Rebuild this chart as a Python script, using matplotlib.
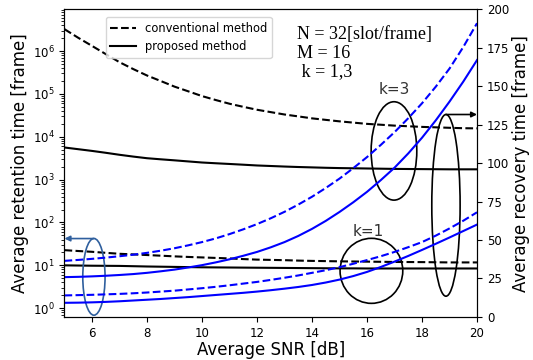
import numpy as np
import matplotlib
matplotlib.use('Agg')
import matplotlib.pyplot as plt
from matplotlib.patches import Ellipse

# SNR [dB]
snr = [5.0, 5.5, 6.0, 6.5, 7.0, 7.5, 8.0, 8.5, 9.0, 9.5, 10.0, 10.5, 11.0, 11.5, 12.0, 12.5,
       13.0, 13.5, 14.0, 14.5, 15.0, 15.5, 16.0, 16.5, 17.0, 17.5, 18.0, 18.5, 19.0, 19.5, 20.0]

# retention time [frame] (left, log axis)
ret_conv_k3 = [3.24e6, 2.04e6, 1.32e6, 8.5e5, 5.5e5, 3.8e5, 2.69e5, 2.0e5, 1.48e5, 1.15e5,
               8.9e4, 7.2e4, 5.9e4, 5.0e4, 4.27e4, 3.76e4, 3.31e4, 2.99e4, 2.69e4, 2.48e4,
               2.29e4, 2.14e4, 2.0e4, 1.91e4, 1.82e4, 1.76e4, 1.70e4, 1.66e4, 1.62e4, 1.585e4,
               1.57e4]
ret_prop_k3 = [5620, 5130, 4680, 4230, 3800, 3450, 3160, 2980, 2820, 2660, 2510, 2410,
               2320, 2230, 2140, 2080, 2020, 1970, 1930, 1890, 1860, 1840, 1820, 1800,
               1780, 1770, 1760, 1750, 1740, 1740, 1740]
ret_conv_k1 = [22.6, 21.6, 20.7, 19.6, 18.6, 18.0, 17.4, 16.8, 16.2, 15.7, 15.3, 14.9,
               14.5, 14.0, 13.6, 13.4, 13.2, 12.9, 12.7, 12.55, 12.4, 12.3, 12.2, 12.1,
               12.0, 11.95, 11.9, 11.8, 11.7, 11.7, 11.7]
ret_prop_k1 = [10.0, 9.9, 9.8, 9.75, 9.7, 9.55, 9.4, 9.3, 9.2, 9.1, 9.0, 8.95, 8.9,
               8.85, 8.8, 8.75, 8.7, 8.65, 8.6, 8.55, 8.5, 8.5, 8.45, 8.45, 8.45, 8.45,
               8.45, 8.45, 8.45, 8.45, 8.45]

# recovery time [frame] (right, linear axis)
rec_conv_k3 = [36.4, 37.0, 37.7, 38.5, 39.4, 40.4, 41.6, 43.0, 44.6, 46.5, 48.6, 51.0,
               53.8, 56.9, 60.3, 64.1, 68.3, 73.0, 78.1, 83.8, 89.9, 96.7, 103.9, 111.8,
               120.1, 129.2, 138.9, 149.7, 161.5, 175.5, 191.0]
rec_prop_k3 = [25.8, 26.0, 26.3, 26.7, 27.2, 27.8, 28.6, 29.6, 30.7, 32.1, 33.6, 35.4,
               37.4, 39.7, 42.2, 45.2, 48.6, 52.6, 57.2, 62.4, 68.2, 74.5, 81.3, 88.9,
               97.0, 106.3, 116.5, 127.8, 140.0, 153.0, 167.0]
rec_conv_k1 = [13.9, 14.1, 14.3, 14.6, 14.9, 15.3, 15.8, 16.4, 17.0, 17.8, 18.6, 19.5,
               20.5, 21.6, 22.7, 24.0, 25.4, 26.9, 28.6, 30.3, 32.3, 34.5, 36.9, 39.4,
               42.2, 45.3, 48.6, 52.8, 57.5, 62.5, 68.0]
rec_prop_k1 = [9.1, 9.2, 9.4, 9.7, 10.1, 10.6, 11.1, 11.6, 12.2, 12.8, 13.5, 14.2,
               14.9, 15.6, 16.4, 17.3, 18.3, 19.4, 20.7, 22.3, 24.2, 26.5, 29.2, 32.4,
               35.9, 39.6, 43.5, 47.5, 51.6, 55.8, 60.0]

fig, ax = plt.subplots(figsize=(5.33, 3.6), dpi=100)
fig.subplots_adjust(left=0.121, right=0.895, bottom=0.12, top=0.974)

ax.plot(snr, ret_conv_k3, 'k--', lw=1.5, label='conventional method')
ax.plot(snr, ret_prop_k3, 'k-', lw=1.5, label='proposed method')
ax.plot(snr, ret_conv_k1, 'k--', lw=1.5)
ax.plot(snr, ret_prop_k1, 'k-', lw=1.5)
ax.set_yscale('log')
ax.set_ylim(0.63, 9.4e6)
ax.set_xlim(5, 20)
ax.set_xlabel('Average SNR [dB]', fontsize=12, labelpad=1)
ax.set_ylabel('Average retention time [frame]', fontsize=12, labelpad=3)
ax.tick_params(labelsize=8.5)
ax.legend(loc='upper left', bbox_to_anchor=(0.1, 0.975), borderaxespad=0,
          fontsize=8.3, handlelength=2.2)

ax2 = ax.twinx()
ax2.plot(snr, rec_conv_k3, '--', color='blue', lw=1.5)
ax2.plot(snr, rec_prop_k3, '-', color='blue', lw=1.5)
ax2.plot(snr, rec_conv_k1, '--', color='blue', lw=1.5)
ax2.plot(snr, rec_prop_k1, '-', color='blue', lw=1.5)
ax2.set_ylim(0, 200)
ax2.set_yticks(np.arange(0, 201, 25))
ax2.set_ylabel('Average recovery time [frame]', fontsize=12, labelpad=2)
ax2.tick_params(labelsize=8.5)

# parameter text
ax2.text(0.563, 0.945, 'N = 32[slot/frame]\nM = 16\n k = 1,3', transform=ax.transAxes,
         family='Liberation Serif', fontsize=13, va='top', ha='left', linespacing=1.1)

# annotations
ax2.add_patch(Ellipse((16.98, 107.9), 1.66, 64, fill=False, ec='black', lw=1.2))
ax2.add_patch(Ellipse((16.16, 29.9), 2.28, 42.3, fill=False, ec='black', lw=1.2))
ax2.add_patch(Ellipse((18.87, 72.5), 1.03, 118.2, fill=False, ec='black', lw=1.2))
ax2.add_patch(Ellipse((6.07, 26.0), 0.81, 49.9, fill=False, ec='#2f5f9e', lw=1.2))
ax2.text(16.98, 148, 'k=3', fontsize=11, color='#333333', ha='center', va='center')
ax2.text(16.04, 55.7, 'k=1', fontsize=11, color='#333333', ha='center', va='center')
ax2.annotate('', xy=(20.0, 131.6), xytext=(18.87, 131.6),
             arrowprops=dict(arrowstyle='-|>', color='black', lw=1.2, mutation_scale=8,
                             shrinkA=0, shrinkB=0))
ax2.annotate('', xy=(5.0, 50.9), xytext=(6.07, 50.9),
             arrowprops=dict(arrowstyle='-|>', color='#2f5f9e', lw=1.2, mutation_scale=8,
                             shrinkA=0, shrinkB=0))

plt.savefig('out.png', dpi=100)
